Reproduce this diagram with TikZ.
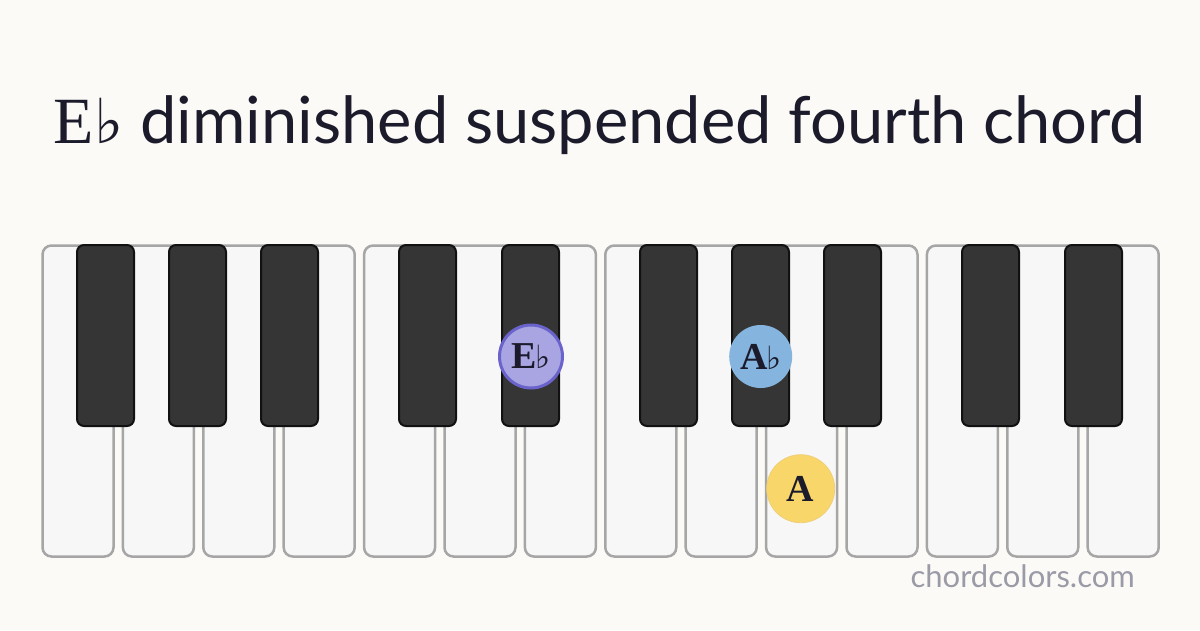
\documentclass[tikz,border=0pt]{standalone}
\usepackage{fontspec}
\newfontfamily\sansf{Lato}
\newfontfamily\seriff{Liberation Serif}
\newfontfamily\flatf{DejaVu Sans}
\newcommand\myflat{{\flatf\symbol{"266D}}}
\definecolor{bgc}{HTML}{FBFAF6}
\definecolor{wkfill}{HTML}{F7F7F7}
\definecolor{wkborder}{HTML}{A6A6A6}
\definecolor{bkfill}{HTML}{353535}
\definecolor{bkborder}{HTML}{111111}
\definecolor{titlec}{HTML}{1C1B2B}
\definecolor{ebfill}{HTML}{A9A4E2}
\definecolor{ebborder}{HTML}{6B63CC}
\definecolor{abfill}{HTML}{85B4DE}
\definecolor{afill}{HTML}{F8D66A}
\definecolor{aborder}{HTML}{EFD078}
\definecolor{markc}{HTML}{9B9BA8}
\begin{document}
\begin{tikzpicture}[x=1pt,y=-1pt,
  wk/.style={draw=wkborder, fill=wkfill, line width=2.5pt, rounded corners=9pt, minimum width=71pt, minimum height=311pt, anchor=north west, inner sep=0pt},
  bk/.style={draw=bkborder, fill=bkfill, line width=2pt, rounded corners=7pt, minimum width=57pt, minimum height=181pt, anchor=north, inner sep=0pt},
  note/.style={circle, inner sep=0pt, text=titlec, font=\seriff\fontsize{38}{38}\selectfont\bfseries}]
\fill[bgc] (0,0) rectangle (1200,630);
\useasboundingbox (0,0) rectangle (1200,630);
\node[anchor=base, text=titlec, inner sep=0pt] (title) at (600,143)
  {{\seriff\fontsize{66}{66}\selectfont E{\fontsize{62}{62}\selectfont\myflat}}\hspace{17pt}{\sansf\fontsize{65}{65}\selectfont diminished suspended fourth chord}};
\foreach \i in {0,...,13} {
  \node[wk] (w\i) at ({41.25+80.4*\i},244.25) {};
}
\foreach \c [count=\j] in {105.5,197.5,289.5,427.5,530.5,668.5,760.5,852.5,990.5,1093.5} {
  \node[bk] (b\j) at (\c,244) {};
}
\node[note, fill=ebfill, draw=ebborder, line width=3pt, minimum size=63pt] (eb) at (531,356.5) {E\kern-1.5pt{\fontsize{32}{32}\selectfont\myflat}};
\node[note, fill=abfill, minimum size=63pt] (ab) at (760.7,356.5) {A\kern-1.5pt{\fontsize{32}{32}\selectfont\myflat}};
\node[note, fill=afill, draw=aborder, line width=0.8pt, minimum size=68pt] (a) at (800.7,488.7) {A};
\node[anchor=base east, text=markc, inner sep=0pt, font=\sansf\fontsize{31}{31}\selectfont] (mark) at (1135,587) {chordcolors.com};
\end{tikzpicture}
\end{document}
